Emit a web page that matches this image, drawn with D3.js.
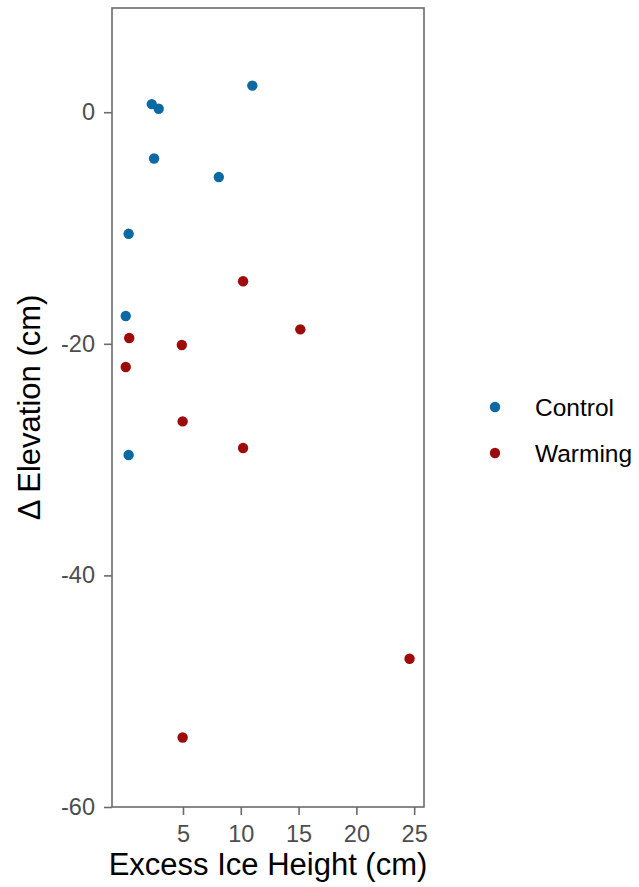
<!DOCTYPE html>
<html>
<head>
<meta charset="utf-8">
<script src="https://cdn.jsdelivr.net/npm/d3@7"></script>
<style>
  html, body { margin: 0; padding: 0; background: #fff; }
  svg { display: block; font-family: "Liberation Sans", Arial, sans-serif; }
</style>
</head>
<body>
<svg id="chart" width="639" height="887"></svg>
<script>
// Excess ice height (cm) vs. change in elevation (cm), by treatment
const treatments = ["Control", "Warming"];
const controlIce = [11.0, 2.3, 2.9, 2.5, 8.1, 0.3, 0.05, 0.3];
const controlElev = [2.3, 0.7, 0.3, -4.0, -5.6, -10.5, -17.6, -29.6];
const warmingIce = [10.2, 0.35, 15.15, 4.9, 0.05, 4.97, 10.2, 24.6, 4.97];
const warmingElev = [-14.6, -19.5, -18.75, -20.1, -22.0, -26.7, -29.0, -47.2, -54.0];
const xTicks = [5, 10, 15, 20, 25];
const yTicks = [0, -20, -40, -60];
const palette = ["#0b69a3", "#9e0b0b"];

const points = [
  ...controlIce.map((x, i) => ({ x, y: controlElev[i], g: "Control" })),
  ...warmingIce.map((x, i) => ({ x, y: warmingElev[i], g: "Warming" }))
];

const svg = d3.select("#chart");
const panel = { left: 112, top: 8, right: 424, bottom: 807 };

const x = d3.scaleLinear().domain([-1.14, 25.85]).range([panel.left, panel.right]);
const y = d3.scaleLinear().domain([-60, 9]).range([panel.bottom, panel.top]);
const color = d3.scaleOrdinal().domain(treatments).range(palette);

const tickColor = "#4d4d4d";
const borderColor = "#6b6b6b";
const plain = d => String(d); // plain hyphen-minus for negative labels

// axes
const xAxis = svg.append("g")
  .attr("transform", `translate(0,${panel.bottom})`)
  .call(d3.axisBottom(x).tickValues(xTicks).tickFormat(plain).tickSize(8).tickPadding(5));
const yAxis = svg.append("g")
  .attr("transform", `translate(${panel.left},0)`)
  .call(d3.axisLeft(y).tickValues(yTicks).tickFormat(plain).tickSize(8).tickPadding(9));

[xAxis, yAxis].forEach(a => {
  a.select(".domain").remove();
  a.selectAll(".tick line").attr("stroke", borderColor).attr("stroke-width", 1.6);
  a.selectAll(".tick text")
    .attr("fill", tickColor)
    .style("font-size", "23.5px")
    .style("font-family", "'Liberation Sans', Arial, sans-serif");
});
xAxis.selectAll(".tick text").attr("dy", "0.92em");

// panel border
svg.append("rect")
  .attr("x", panel.left).attr("y", panel.top)
  .attr("width", panel.right - panel.left)
  .attr("height", panel.bottom - panel.top)
  .attr("fill", "none")
  .attr("stroke", borderColor)
  .attr("stroke-width", 1.6);

// points
svg.append("g").selectAll("circle")
  .data(points)
  .join("circle")
  .attr("cx", d => x(d.x))
  .attr("cy", d => y(d.y))
  .attr("r", 5.2)
  .attr("fill", d => color(d.g));

// axis titles
svg.append("text")
  .attr("x", (panel.left + panel.right) / 2)
  .attr("y", 875)
  .attr("text-anchor", "middle")
  .style("font-size", "31px")
  .attr("fill", "#000")
  .text("Excess Ice Height (cm)");

svg.append("text")
  .attr("transform", `translate(40,${(panel.top + panel.bottom) / 2}) rotate(-90)`)
  .attr("text-anchor", "middle")
  .style("font-size", "31px")
  .attr("fill", "#000")
  .text("\u0394 Elevation (cm)");

// legend
const legend = svg.append("g").attr("transform", "translate(495,407)");
const item = legend.selectAll("g")
  .data(treatments)
  .join("g")
  .attr("transform", (d, i) => `translate(0,${i * 46})`);
item.append("circle").attr("r", 5.2).attr("fill", d => color(d));
item.append("text")
  .attr("x", 40)
  .attr("y", 9)
  .style("font-size", "24.5px")
  .attr("fill", "#000")
  .text(d => d);
</script>
</body>
</html>
